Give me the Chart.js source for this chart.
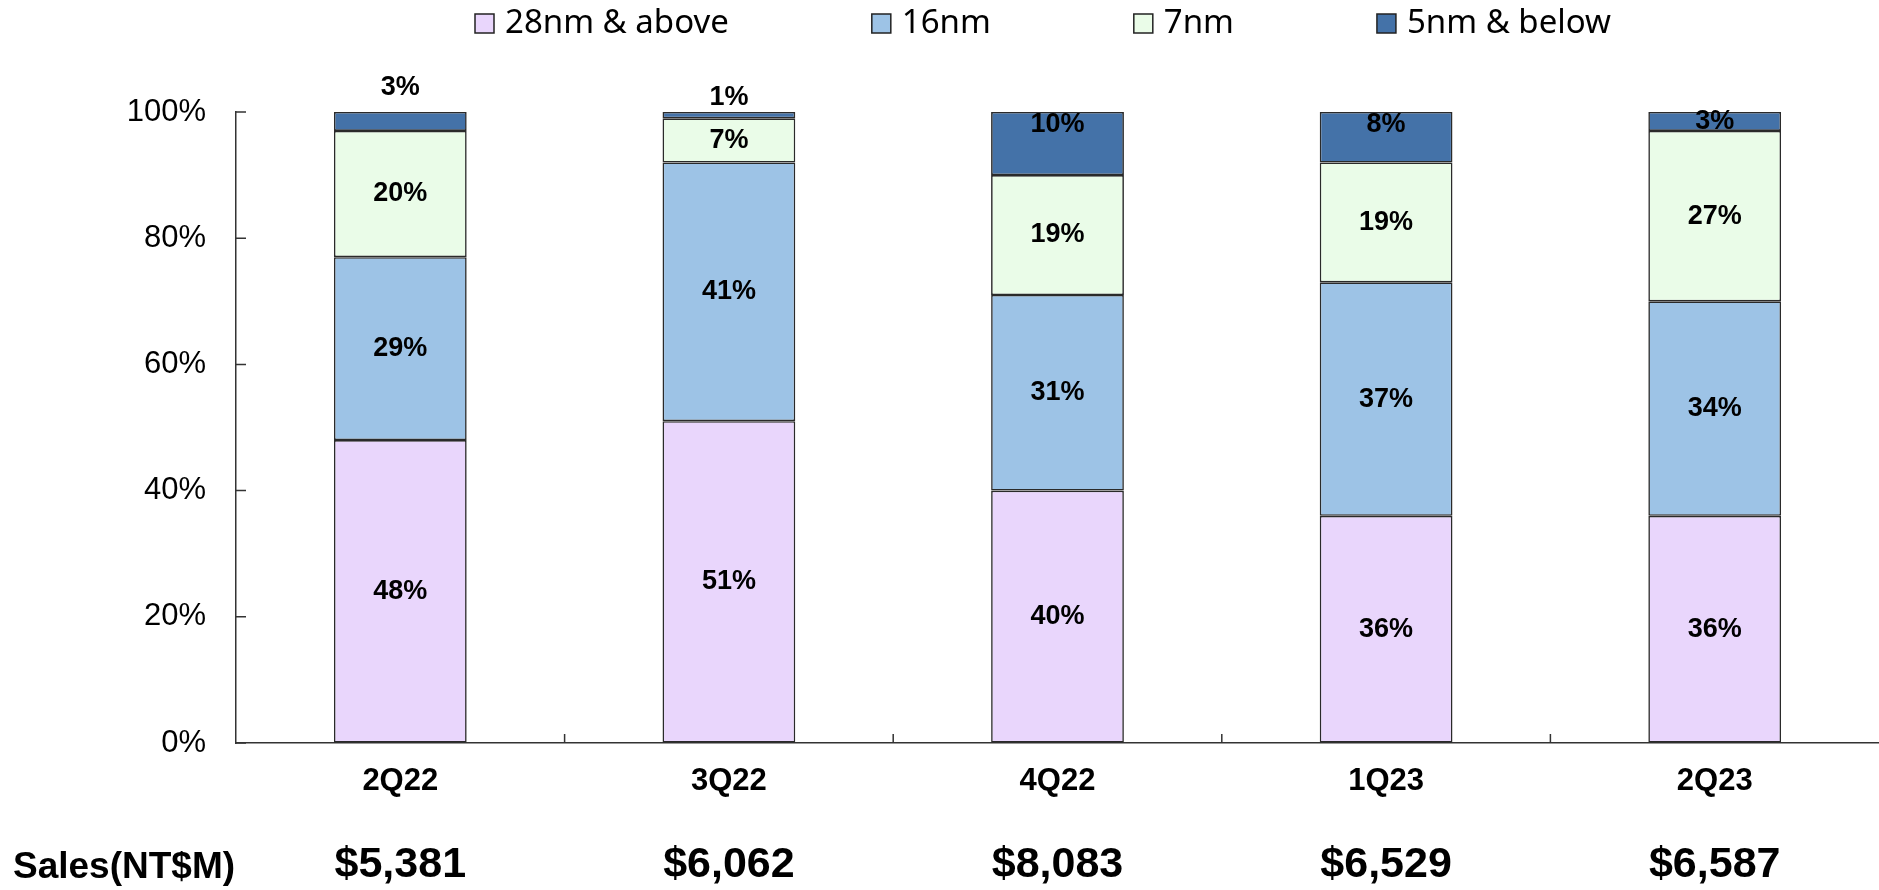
<!DOCTYPE html>
<html lang="en">
<head>
  <meta charset="UTF-8" />
  <title>Revenue by Technology</title>
  <script src="https://cdn.jsdelivr.net/npm/chart.js"></script>
  <style>
    html, body { margin: 0; padding: 0; background: #fff; }
    .wrap { width: 1879px; height: 890px; position: relative; }
  </style>
</head>
<body>
  <div class="wrap"><canvas id="techChart"></canvas></div>

  <script>
    // data
    const quarters = ['2Q22', '3Q22', '4Q22', '1Q23', '2Q23'];
    const nm28 = [48, 51, 40, 36, 36];
    const nm16 = [29, 41, 31, 37, 34];
    const nm7 = [20, 7, 19, 19, 27];
    const nm5 = [3, 1, 10, 8, 3];
    const sales = ['$5,381', '$6,062', '$8,083', '$6,529', '$6,587'];
    const yTicks = [0, 20, 40, 60, 80, 100];
    const seriesNames = ['28nm & above', '16nm', '7nm', '5nm & below'];
    const seriesColors = ['#E9D6FC', '#9DC3E6', '#EAFCE8', '#4472A8'];

    // small top labels that sit above the bar (gap above the bar top, px)
    const aboveGap = { '2Q22': 11, '3Q22': 1 };

    const edge = '#2a2a2a';
    const numFont = '"Liberation Sans", Arial, sans-serif';

    // legend, value labels, inward ticks and the sales row
    const decor = {
      id: 'decor',
      afterDatasetsDraw(chart) {
        const ctx = chart.ctx;
        const area = chart.chartArea;
        const xs = chart.scales.x, ys = chart.scales.y;
        ctx.save();

        // ticks pointing into the plot
        ctx.strokeStyle = '#333';
        ctx.lineWidth = 1.5;
        ctx.beginPath();
        ys.ticks.forEach(t => {
          const py = ys.getPixelForValue(t.value);
          ctx.moveTo(area.left, py);
          ctx.lineTo(area.left + 10, py);
        });
        for (let i = 1; i < quarters.length; i++) {
          const px = (xs.getPixelForValue(i - 1) + xs.getPixelForValue(i)) / 2;
          ctx.moveTo(px, area.bottom);
          ctx.lineTo(px, area.bottom - 9);
        }
        ctx.stroke();

        // percentage labels
        ctx.fillStyle = '#000';
        ctx.font = 'bold 27px ' + numFont;
        ctx.textAlign = 'center';
        const last = chart.data.datasets.length - 1;
        chart.data.datasets.forEach((ds, d) => {
          chart.getDatasetMeta(d).data.forEach((bar, j) => {
            const txt = ds.data[j] + '%';
            let cy = (bar.y + bar.base) / 2;
            if (d === last) {
              if (quarters[j] in aboveGap) {
                ctx.textBaseline = 'bottom';
                ctx.fillText(txt, bar.x, bar.y - aboveGap[quarters[j]]);
                return;
              }
              cy = Math.min(cy, bar.y + 13);
            }
            ctx.textBaseline = 'middle';
            ctx.fillText(txt, bar.x, cy);
          });
        });

        // sales row
        ctx.textBaseline = 'middle';
        ctx.font = 'bold 43px ' + numFont;
        sales.forEach((s, j) => ctx.fillText(s, xs.getPixelForValue(j), 865));
        ctx.textAlign = 'left';
        ctx.font = 'bold 37px ' + numFont;
        ctx.fillText('Sales(NT$M)', 13, 868);

        // legend
        ctx.font = '33px "Noto Sans", sans-serif';
        let lx = 475;
        seriesNames.forEach((name, k) => {
          ctx.fillStyle = seriesColors[k];
          ctx.fillRect(lx, 14, 19, 19);
          ctx.strokeStyle = '#222';
          ctx.lineWidth = 1.5;
          ctx.strokeRect(lx, 14, 19, 19);
          ctx.fillStyle = '#000';
          ctx.fillText(name, lx + 30, 24);
          lx += 30 + ctx.measureText(name).width + 143;
        });

        ctx.restore();
      }
    };

    const seriesData = [nm28, nm16, nm7, nm5];

    new Chart(document.getElementById('techChart'), {
      type: 'bar',
      data: {
        labels: quarters,
        datasets: seriesData.map((vals, k) => ({
          label: seriesNames[k],
          data: vals,
          backgroundColor: seriesColors[k],
          borderColor: edge,
          borderWidth: 1.6,
          borderSkipped: false,
          categoryPercentage: 1,
          barPercentage: 0.404
        }))
      },
      options: {
        responsive: true,
        maintainAspectRatio: false,
        animation: false,
        layout: { padding: { top: 112, right: 0, bottom: 0, left: 0 } },
        plugins: {
          legend: { display: false },
          tooltip: { enabled: false }
        },
        scales: {
          x: {
            stacked: true,
            afterFit: s => { s.height = 147; },
            grid: { display: false },
            border: { display: true, color: '#333', width: 1.5 },
            ticks: {
              color: '#000',
              padding: 12,
              font: { family: numFont, size: 31, weight: 'bold' }
            }
          },
          y: {
            stacked: true,
            min: 0,
            max: 100,
            afterFit: s => { s.width = 236; },
            afterBuildTicks: s => { s.ticks = yTicks.map(v => ({ value: v })); },
            grid: { drawOnChartArea: false, drawTicks: false },
            border: { display: true, color: '#333', width: 1.5 },
            ticks: {
              color: '#000',
              padding: 30,
              font: { family: numFont, size: 31 },
              callback: v => v + '%'
            }
          }
        }
      },
      plugins: [decor]
    });
  </script>
</body>
</html>
